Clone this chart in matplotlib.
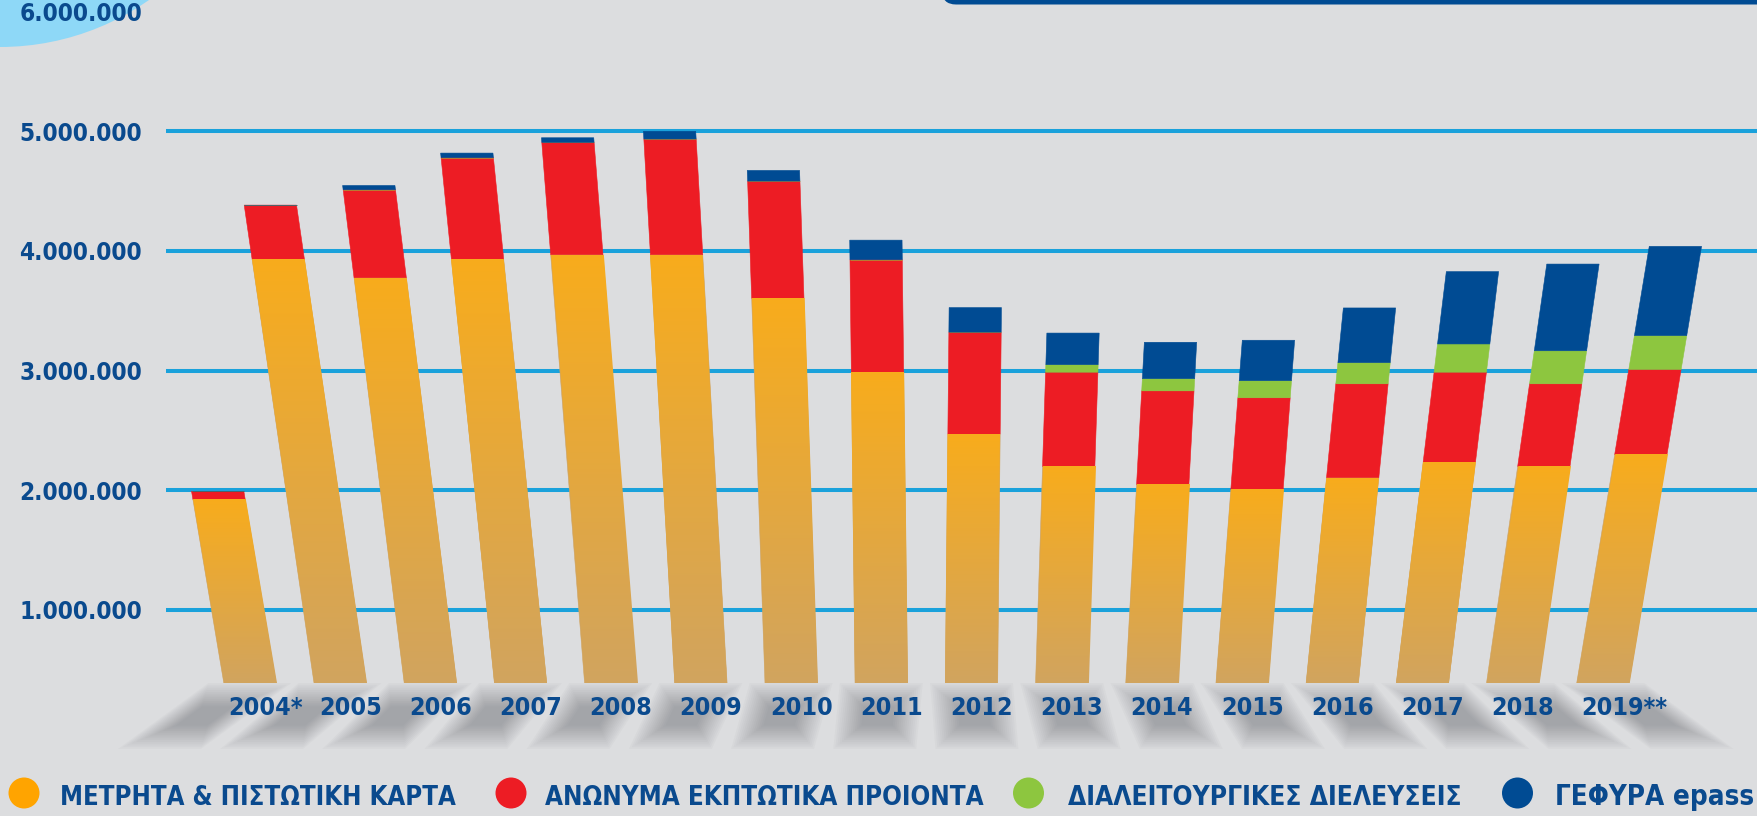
import numpy as np
import matplotlib
matplotlib.use('Agg')
import matplotlib.pyplot as plt
from matplotlib import font_manager
from matplotlib.font_manager import FontProperties
from matplotlib.transforms import Affine2D, blended_transform_factory, IdentityTransform
from matplotlib.patches import Ellipse, FancyBboxPatch
from matplotlib.colors import LinearSegmentedColormap

# ---------------- data ----------------
years = ['2004*', '2005', '2006', '2007', '2008', '2009', '2010', '2011',
         '2012', '2013', '2014', '2015', '2016', '2017', '2018', '2019**']
cash_card = [1923000, 3929000, 3776000, 3930000, 3969000, 3969000, 3605000, 2986000,
             2469000, 2199000, 2048000, 2005000, 2105000, 2235000, 2199000, 2298000]
discount = [67000, 454000, 736000, 850000, 939000, 967000, 979000, 941000,
            852000, 787000, 782000, 767000, 784000, 751000, 690000, 711000]
interop = [0, 0, 0, 0, 0, 0, 0, 0,
           0, 63000, 102000, 143000, 177000, 236000, 276000, 283000]
epass = [0, 0, 35000, 38000, 38000, 64000, 89000, 163000,
         205000, 264000, 304000, 338000, 457000, 605000, 725000, 746000]
series_names = ['ΜΕΤΡΗΤΑ & ΠΙΣΤΩΤΙΚΗ ΚΑΡΤΑ', 'ΑΝΩΝΥΜΑ ΕΚΠΤΩΤΙΚΑ ΠΡΟΙΟΝΤΑ',
                'ΔΙΑΛΕΙΤΟΥΡΓΙΚΕΣ ΔΙΕΛΕΥΣΕΙΣ', 'ΓΕΦΥΡΑ epass']
ytick_vals = [1000000, 2000000, 3000000, 4000000, 5000000, 6000000]
grid_vals = [1000000, 2000000, 3000000, 4000000, 5000000]

# ---------------- style ----------------
BG = '#DCDDDF'
TXT = '#0A4A8E'
GRID = '#1AA1DB'
C_RED = '#ED1C24'
C_GREEN = '#8DC63F'
C_BLUE = '#004B93'
C_ORANGE_TOP = '#F8AC1C'
C_ORANGE_BOT = '#D1A45F'
LEG_COLORS = ['#FFA400', C_RED, C_GREEN, C_BLUE]

# pick a condensed / narrow bold font if one is installed
cands = []
for f in font_manager.fontManager.ttflist:
    nm = f.name.lower()
    fn = f.fname.lower()
    cond = ('narrow' in nm or 'condensed' in nm or 'narrow' in fn or 'condensed' in fn
            or str(f.stretch) in ('condensed', 'semi-condensed', 'extra-condensed',
                                  'ultra-condensed'))
    if cond:
        w = f.weight if isinstance(f.weight, int) else (700 if 'bold' in str(f.weight) else 400)
        score = abs(w - 700) + (0 if 'oblique' not in fn and 'italic' not in fn else 1000)
        cands.append((score, f.fname))
if cands:
    cands.sort()
    fp = FontProperties(fname=cands[0][1])
    WEIGHT = 'normal'
else:
    fp = FontProperties(family=['Roboto', 'DejaVu Sans'], weight='bold')
    WEIGHT = 'bold'

W, H, DPI = 1758, 816, 100
fig = plt.figure(figsize=(W / DPI, H / DPI), dpi=DPI, facecolor=BG)
ax = fig.add_axes([166 / W, (H - 683) / H, (W - 166) / W, 683 / H])
ax.set_facecolor(BG)
for s in ax.spines.values():
    s.set_visible(False)

r = fig.canvas.get_renderer()


def fit_size(text, target_w, base=24.0):
    t = fig.text(0, 0, text, fontproperties=fp, fontsize=base)
    if WEIGHT == 'bold':
        t.set_fontweight('bold')
    bw = t.get_window_extent(r).width
    t.remove()
    return base * target_w / bw


n = len(years)
x = np.arange(n)
xlim = (-0.931, 16.72)
ylim = (387000, 6098000)
px_x = (W - 166) / (xlim[1] - xlim[0])
px_y = 683 / (ylim[1] - ylim[0])
y0 = ylim[0]
width = 0.58

# gridlines
for v in grid_vals:
    ax.axhline(v, color=GRID, lw=2.9, zorder=1)


# per-bar perspective shear
def shear(i):
    slope_px = 0.0223 * (i - 7.55)
    s = slope_px * px_y / px_x
    return Affine2D(np.array([[1.0, s, -s * y0], [0.0, 1.0, 0.0], [0.0, 0.0, 1.0]])) + ax.transData


shears = [shear(i) for i in range(n)]

bottoms = np.zeros(n)
all_containers = []
for vals, col in zip([cash_card, discount, interop, epass],
                     [C_ORANGE_BOT, C_RED, C_GREEN, C_BLUE]):
    vals = np.array(vals, dtype=float)
    bc = ax.bar(x, vals, width, bottom=bottoms, color=col, edgecolor=col,
                linewidth=0.4, zorder=3)
    for i, p in enumerate(bc.patches):
        p.set_transform(shears[i])
    all_containers.append(bc)
    bottoms = bottoms + vals

# orange gradient
cmap = LinearSegmentedColormap.from_list('og', [C_ORANGE_BOT, C_ORANGE_TOP])
grad = np.linspace(0, 1, 256).reshape(-1, 1)
for i, p in enumerate(all_containers[0].patches):
    im = ax.imshow(grad, cmap=cmap, origin='lower', aspect='auto',
                   extent=(x[i] - width / 2, x[i] + width / 2, y0, cash_card[i]),
                   transform=shears[i], zorder=3.2, interpolation='bilinear')
    im.set_clip_path(p)

ax.set_xlim(xlim)
ax.set_ylim(ylim)
ax.set_xticks([])
ax.set_yticks(ytick_vals)
tick_size = fit_size('5.000.000', 104) * 1.18
ax.set_yticklabels([f'{v:,}'.replace(',', '.') for v in ytick_vals],
                   fontproperties=fp, fontsize=tick_size, color=TXT)
if WEIGHT == 'bold':
    for lab in ax.get_yticklabels():
        lab.set_fontweight('bold')
ax.tick_params(axis='y', length=0, pad=17.3)

# floor shadows
shadow_h = 66 / px_y
NL = 14
for i in range(n):
    dxs = 12 * (i - 7.55) / px_x
    for k in range(NL):
        ix = k * 0.022
        iy = k * 1.8 / px_y
        xl = x[i] - 0.46 + ix
        xr = x[i] + 0.46 - ix
        yt = y0 - iy
        yb = y0 - shadow_h + iy
        sh = dxs * (y0 - yb) / shadow_h
        st = dxs * (y0 - yt) / shadow_h
        ax.fill([xl + st, xr + st, xr + sh, xl + sh],
                [yt, yt, yb, yb], color='#2a2c34', alpha=0.022, lw=0,
                clip_on=False, zorder=0.5)

# year labels
year_size = fit_size('2004', 55.7) * 1.12
digit_w = 55.7 * 1.12 / px_x
tr_lab = blended_transform_factory(ax.transData, ax.transAxes)
for i in range(n):
    t = ax.text(x[i] + 0.11 - digit_w / 2, (683 - 708) / 683, years[i], transform=tr_lab,
                ha='left', va='center', fontproperties=fp, fontsize=year_size,
                color=TXT, zorder=5)
    if WEIGHT == 'bold':
        t.set_fontweight('bold')

# decorations
fig.add_artist(Ellipse((0, H + 212.7), 2 * 259.7, 2 * 259.7, transform=IdentityTransform(),
                       facecolor='#8ED8F7', edgecolor='none', zorder=0))
fig.add_artist(FancyBboxPatch((942, H - 4.5), W - 942 + 30, 40,
                              boxstyle='round,pad=0,rounding_size=14',
                              transform=IdentityTransform(), facecolor=C_BLUE,
                              edgecolor='none', zorder=2))

# legend
leg_cx = [24, 511, 1028.5, 1517.5]
leg_tx = [60, 545, 1067.6, 1554.7]
leg_tw = [396, 438.6, 393.4, 199]
for cx, tx, tw, name, col in zip(leg_cx, leg_tx, leg_tw, series_names, LEG_COLORS):
    fig.add_artist(Ellipse((cx / W, 1 - 793 / H), 31 / W, 31 / H,
                           transform=fig.transFigure, facecolor=col, edgecolor='none'))
    t = fig.text(tx / W, (H - 805) / H, name, ha='left', va='baseline',
                 fontproperties=fp, fontsize=fit_size(name, tw), color=TXT)
    if WEIGHT == 'bold':
        t.set_fontweight('bold')

fig.savefig('out.png', dpi=DPI, facecolor=BG)
